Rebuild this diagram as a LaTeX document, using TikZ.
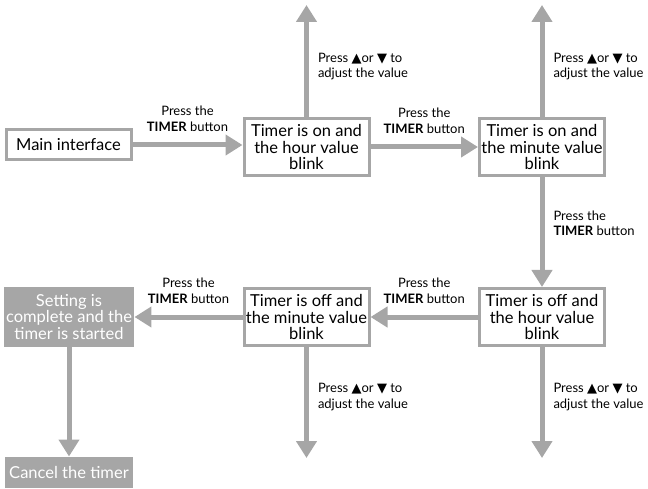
\documentclass[tikz,border=0pt]{standalone}
\usepackage{fontspec}
\setmainfont{Lato}
\newfontfamily\symfont{DejaVu Sans}
\usepackage{xcolor}
\usetikzlibrary{arrows.meta}

\definecolor{flowgray}{RGB}{166,166,166}
\newcommand{\presstimer}{Press the\\\textbf{TIMER} button}
\newcommand{\pressadjust}{Press {\symfont\fontsize{13}{13}\selectfont ▲}or {\symfont\fontsize{13}{13}\selectfont ▼} to\\adjust the value}

\begin{document}
\begin{tikzpicture}[x=1pt,y=1pt,
  box/.style={draw=flowgray,line width=3pt,fill=white,align=center,inner sep=1pt,
    font=\fontsize{16.5}{16.5}\selectfont,minimum width=125pt,minimum height=57pt},
  donebox/.style={box,fill=flowgray,text=white},
  flow/.style={draw=flowgray,line width=5pt,-{Triangle[width=20pt,length=17pt]}},
  note/.style={font=\fontsize{13}{15.5}\selectfont,align=left,inner sep=1pt}]
\useasboundingbox (0,0) rectangle (648,488);

% top row
\node[box,minimum height=30pt] (main) at (68.5,343) {Main interface};
\node[box] (onhour) at (306.5,341) {Timer is on and\\the hour value\\blink};
\node[box] (onmin) at (542,341) {Timer is on and\\the minute value\\blink};

% bottom row
\node[box] (offhour) at (542,171) {Timer is off and\\the hour value\\blink};
\node[box] (offmin) at (306.5,171) {Timer is off and\\the minute value\\blink};
\node[donebox] (done) at (69,171) {Setting is\\complete and the\\timer is started};
\node[donebox,minimum height=28pt] (cancel) at (69,16) {Cancel the timer};

% free ends of the value arrows
\coordinate (uphour) at (306.5,483);
\coordinate (upmin) at (542,483);
\coordinate (downhour) at (542,30);
\coordinate (downmin) at (306.5,30);

\draw[flow] (main.east) -- node[note,align=center,above=10pt]{\presstimer} (main.east -| onhour.west);
\draw[flow] (onhour) -- node[note,align=center,above=10pt]{\presstimer} (onmin);
\draw[flow] (onhour) -- node[note,right=8pt,pos=0.45]{\pressadjust} (uphour);
\draw[flow] (onmin) -- node[note,right=8pt,pos=0.45]{\pressadjust} (upmin);
\draw[flow] (onmin) -- node[note,right=8pt,pos=0.42]{\presstimer} (offhour);
\draw[flow] (offhour) -- node[note,align=center,above=10pt]{\presstimer} (offmin);
\draw[flow] (offmin) -- node[note,align=center,above=10pt]{\presstimer} (done);
\draw[flow] (offhour) -- node[note,right=8pt,pos=0.45]{\pressadjust} (downhour);
\draw[flow] (offmin) -- node[note,right=8pt,pos=0.45]{\pressadjust} (downmin);
\draw[flow] (done) -- (cancel);
\end{tikzpicture}
\end{document}
